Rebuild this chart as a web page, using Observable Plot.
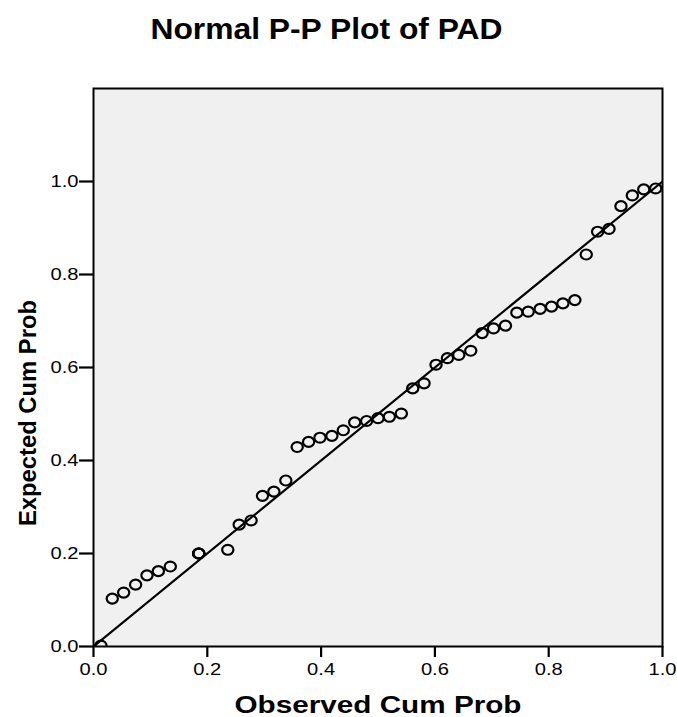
<!DOCTYPE html>
<html>
<head>
<meta charset="utf-8">
<script src="https://cdn.jsdelivr.net/npm/d3@7"></script>
<script src="https://cdn.jsdelivr.net/npm/@observablehq/plot@0.6"></script>
<style>
  html, body { margin: 0; padding: 0; background: #ffffff; }
  #chart { width: 677px; height: 717px; }
</style>
</head>
<body>
<div id="chart"></div>
<script>
const titleText = "Normal P-P Plot of PAD";
const xLabel = "Observed Cum Prob";
const yLabel = "Expected Cum Prob";
const xTicks = [0, 0.2, 0.4, 0.6, 0.8, 1.0];
const yTicks = [0, 0.2, 0.4, 0.6, 0.8, 1.0];
const refLine = [0, 1];

const observed = [
  0.013, 0.033, 0.053, 0.074, 0.094, 0.114, 0.135,
  0.185, 0.185, 0.185, 0.185,
  0.236, 0.256, 0.277, 0.297, 0.317, 0.338, 0.358, 0.378, 0.398, 0.419,
  0.439, 0.459, 0.480, 0.500, 0.520, 0.541, 0.561, 0.581, 0.602, 0.622,
  0.642, 0.663, 0.683, 0.703, 0.724, 0.744, 0.764, 0.785, 0.805, 0.825,
  0.846, 0.866, 0.886, 0.906, 0.927, 0.947, 0.967, 0.988
];
const expected = [
  0.002, 0.103, 0.116, 0.133, 0.153, 0.162, 0.172,
  0.200, 0.200, 0.200, 0.200,
  0.208, 0.262, 0.271, 0.324, 0.333, 0.357, 0.429, 0.440, 0.449, 0.453,
  0.465, 0.482, 0.485, 0.491, 0.494, 0.501, 0.555, 0.566, 0.606, 0.620,
  0.627, 0.636, 0.674, 0.684, 0.690, 0.718, 0.720, 0.726, 0.731, 0.738,
  0.745, 0.843, 0.892, 0.898, 0.947, 0.970, 0.983, 0.985
];

const points = observed.map((o, i) => ({observed: o, expected: expected[i]}));
const lineData = refLine.map(v => ({x: v, y: v}));

const ellipse = {
  draw(context, size) {
    const r = Math.sqrt(size / Math.PI);
    const rx = r * 1.06, ry = r * 0.94, k = 0.5523;
    context.moveTo(rx, 0);
    context.bezierCurveTo(rx, k * ry, k * rx, ry, 0, ry);
    context.bezierCurveTo(-k * rx, ry, -rx, k * ry, -rx, 0);
    context.bezierCurveTo(-rx, -k * ry, -k * rx, -ry, 0, -ry);
    context.bezierCurveTo(k * rx, -ry, rx, -k * ry, rx, 0);
    context.closePath();
  }
};

const font = "'Liberation Sans', Arial, Helvetica, sans-serif";

const chart = Plot.plot({
  width: 677,
  height: 717,
  marginTop: 88,
  marginBottom: 71,
  marginLeft: 93,
  marginRight: 15,
  style: {fontFamily: font, fontSize: "17px", color: "#000", background: "#ffffff"},
  x: {domain: [0, 1], label: null},
  y: {domain: [0, 1.2], label: null},
  marks: [
    Plot.frame({fill: "#f0f0f0", stroke: null}),
    Plot.line(lineData, {x: "x", y: "y", stroke: "#000", strokeWidth: 2.2, clip: "frame"}),
    Plot.dot(points, {x: "observed", y: "expected", r: 5.3, symbol: ellipse, stroke: "#000", strokeWidth: 2.2, fill: "none", clip: "frame"}),
    Plot.frame({stroke: "#000", strokeWidth: 2}),
    Plot.axisX({ticks: xTicks, tickFormat: d3.format(".1f"), tickSize: 11, tickPadding: 5, stroke: "#000", strokeWidth: 2.2, fontSize: 17, label: null}),
    Plot.axisY({ticks: yTicks, tickFormat: d3.format(".1f"), tickSize: 14, tickPadding: 1, stroke: "#000", strokeWidth: 2.2, fontSize: 17, label: null}),
    Plot.text([titleText], {text: d => d, frameAnchor: "top-left", dx: 233, dy: -49.7, lineAnchor: "bottom", textAnchor: "middle", fontSize: 30, fontWeight: "bold", fill: "#000"}),
    Plot.text([xLabel], {text: d => d, frameAnchor: "bottom", dy: 66, lineAnchor: "bottom", textAnchor: "middle", fontSize: 23, fontWeight: "bold", fill: "#000"}),
    Plot.text([yLabel], {text: d => d, frameAnchor: "left", dx: -58, dy: 45.5, rotate: -90, lineAnchor: "bottom", textAnchor: "middle", fontSize: 24, fontWeight: "bold", fill: "#000"})
  ]
});

// stretch texts to the widths measured in the reference
const widths = new Map([[titleText, 352], [xLabel, 287], [yLabel, 226]]);
d3.select(chart).selectAll("text").each(function () {
  const t = this.textContent;
  if (widths.has(t)) {
    this.setAttribute("textLength", widths.get(t));
    this.setAttribute("lengthAdjust", "spacingAndGlyphs");
  } else if (/^\d\.\d$/.test(t)) {
    this.setAttribute("textLength", 28);
    this.setAttribute("lengthAdjust", "spacingAndGlyphs");
  }
});

document.getElementById("chart").appendChild(chart);
</script>
</body>
</html>
